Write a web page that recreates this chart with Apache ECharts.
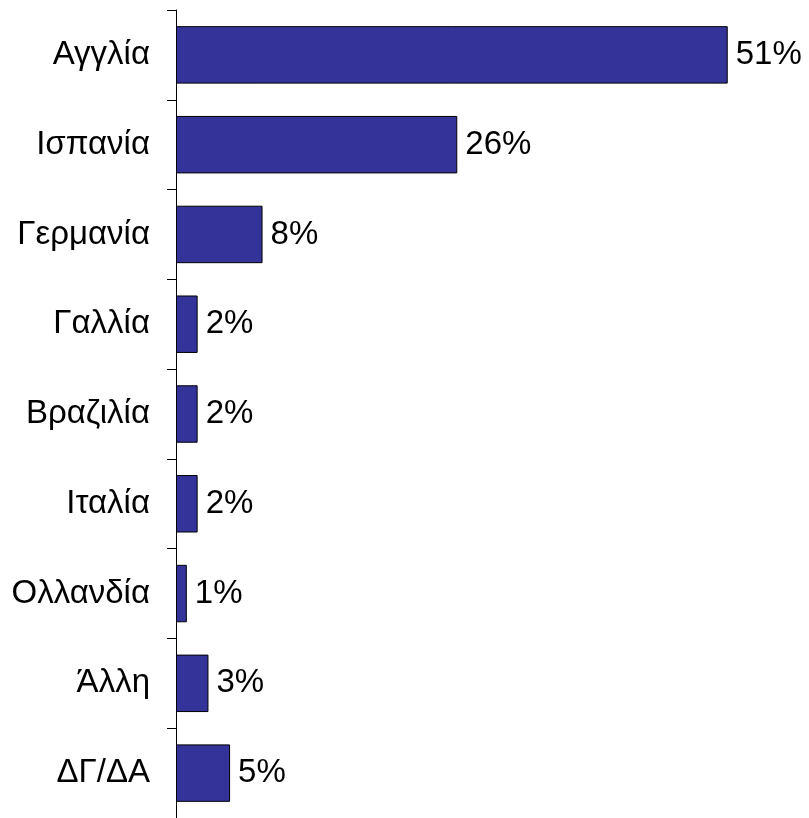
<!DOCTYPE html>
<html>
<head>
<meta charset="utf-8">
<script src="https://cdn.jsdelivr.net/npm/echarts@6/dist/echarts.min.js"></script>
<style>html,body{margin:0;padding:0;background:#fff}#c{width:809px;height:818px}</style>
</head>
<body>
<div id="c"></div>
<script>
const categories = ["Αγγλία","Ισπανία","Γερμανία","Γαλλία","Βραζιλία","Ιταλία","Ολλανδία","Άλλη","ΔΓ/ΔΑ"];
const values = [51, 26, 8, 2, 2, 2, 1, 3, 5];

const chart = echarts.init(document.getElementById('c'), null, {renderer:'canvas'});
chart.setOption({
  animation: false,
  backgroundColor: '#ffffff',
  grid: { left: 176, top: 10, width: 595, height: 810, containLabel: false },
  xAxis: {
    type: 'value', min: 0, max: 55, show: false
  },
  yAxis: {
    type: 'category', data: categories, inverse: true,
    boundaryGap: true,
    axisLine: { show: true, lineStyle: { color: '#000', width: 1 } },
    axisTick: { show: true, length: 9, inside: false, lineStyle: { color: '#000', width: 1 } },
    axisLabel: { color: '#000', fontSize: 33, fontFamily: 'Liberation Sans, Arial, sans-serif', margin: 26 },
    splitLine: { show: false }
  },
  series: [{
    type: 'bar', data: values, barWidth: '64%',
    itemStyle: { color: '#333399', borderColor: '#000', borderWidth: 1 },
    label: { show: true, position: 'right', distance: 8, formatter: '{c}%', color: '#000', fontSize: 33, fontFamily: 'Liberation Sans, Arial, sans-serif' }
  }]
});
</script>
</body>
</html>
